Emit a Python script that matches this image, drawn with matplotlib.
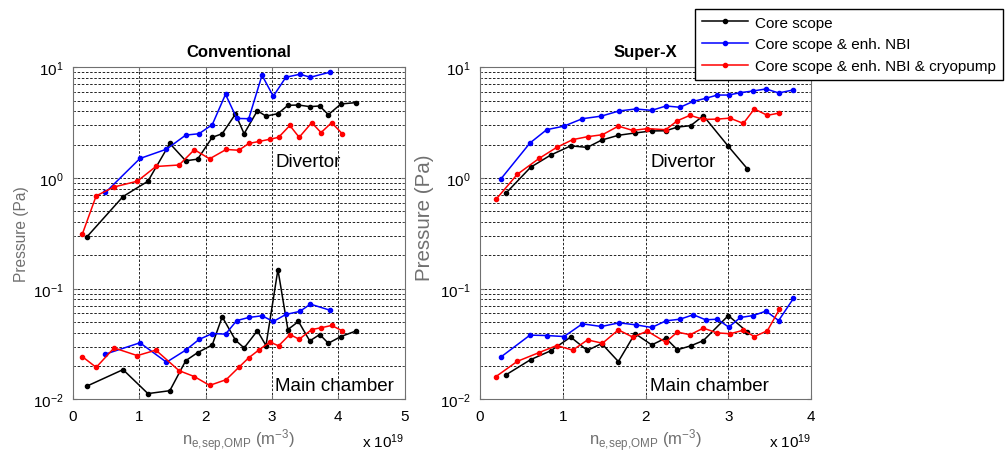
import matplotlib
matplotlib.use('Agg')
import matplotlib.pyplot as plt
from matplotlib.ticker import LogLocator, NullFormatter

plt.rcParams['font.family'] = ['Liberation Sans', 'DejaVu Sans']
plt.rcParams['mathtext.fontset'] = 'custom'
plt.rcParams['mathtext.rm'] = 'Liberation Sans'
plt.rcParams['mathtext.default'] = 'regular'

# ---- Conventional: density in 1e19 m^-3, pressure in Pa ----
conv_x_core = [0.21, 0.755, 1.13, 1.46, 1.70, 1.88, 2.10, 2.25, 2.45, 2.58,
               2.78, 2.91, 3.09, 3.24, 3.40, 3.57, 3.72, 3.85, 4.04, 4.26]
conv_div_core = [0.294, 0.68, 0.935, 2.05, 1.43, 1.48, 2.33, 2.51, 3.78, 2.51,
                 4.05, 3.62, 3.81, 4.53, 4.56, 4.41, 4.47, 3.73, 4.66, 4.79]
conv_main_core = [0.0132, 0.0186, 0.0113, 0.0120, 0.0224, 0.0265, 0.0311, 0.0558, 0.0343, 0.0292,
                  0.0417, 0.0307, 0.149, 0.0428, 0.0506, 0.0338, 0.0386, 0.0322, 0.0370, 0.0414]

conv_x_nbi = [0.49, 1.01, 1.41, 1.70, 1.90, 2.10, 2.30, 2.47, 2.65, 2.85,
              3.02, 3.21, 3.42, 3.58, 3.87]
conv_div_nbi = [0.74, 1.50, 1.82, 2.44, 2.51, 3.03, 5.70, 3.45, 3.43, 8.47,
                5.47, 8.13, 8.64, 8.13, 9.01]
conv_main_nbi = [0.0257, 0.0325, 0.0217, 0.0279, 0.0348, 0.0394, 0.0389, 0.0516, 0.0550, 0.0570,
                 0.0506, 0.0586, 0.0624, 0.0726, 0.0641]

conv_x_cryo = [0.14, 0.35, 0.62, 0.97, 1.25, 1.60, 1.83, 2.06, 2.31, 2.50,
               2.65, 2.81, 2.97, 3.10, 3.27, 3.41, 3.60, 3.74, 3.90, 4.06]
conv_div_cryo = [0.31, 0.69, 0.83, 0.935, 1.27, 1.31, 1.80, 1.49, 1.81, 1.78,
                 2.05, 2.14, 2.24, 2.33, 2.98, 2.33, 3.16, 2.57, 3.16, 2.51]
conv_main_cryo = [0.0244, 0.0195, 0.0292, 0.0249, 0.0279, 0.0182, 0.0161, 0.0134, 0.0151, 0.0195,
                  0.0238, 0.0282, 0.0330, 0.0305, 0.0386, 0.0350, 0.0428, 0.0444, 0.0466, 0.0417]

# ---- Super-X ----
sx_x_core = [0.314, 0.612, 0.854, 1.096, 1.297, 1.470, 1.672, 1.873, 2.075, 2.244,
             2.385, 2.546, 2.699, 3.001, 3.231]
sx_div_core = [0.73, 1.25, 1.61, 1.95, 1.89, 2.20, 2.43, 2.55, 2.66, 2.67,
               2.88, 2.97, 3.65, 1.93, 1.21]
sx_main_core = [0.0167, 0.0229, 0.0275, 0.0366, 0.0277, 0.0320, 0.0220, 0.0394, 0.0311, 0.0358,
                0.0281, 0.0305, 0.0340, 0.0573, 0.0406]

sx_x_nbi = [0.25, 0.604, 0.806, 1.015, 1.237, 1.466, 1.680, 1.882, 2.075, 2.248,
            2.417, 2.578, 2.727, 2.868, 3.005, 3.146, 3.303, 3.456, 3.609, 3.787]
sx_div_nbi = [0.975, 2.07, 2.73, 2.94, 3.43, 3.62, 4.03, 4.20, 4.08, 4.47,
              4.35, 4.92, 5.24, 5.61, 5.61, 5.90, 6.11, 6.37, 5.86, 6.24]
sx_main_nbi = [0.0241, 0.0381, 0.0378, 0.0370, 0.0482, 0.0456, 0.0492, 0.0472, 0.0447, 0.0513,
               0.0531, 0.0582, 0.0524, 0.0531, 0.0450, 0.0550, 0.0573, 0.0628, 0.0516, 0.0817]

sx_x_cryo = [0.193, 0.451, 0.713, 0.927, 1.12, 1.30, 1.48, 1.672, 1.845, 2.022,
             2.244, 2.385, 2.538, 2.699, 2.860, 3.021, 3.182, 3.315, 3.472, 3.617]
sx_div_cryo = [0.64, 1.08, 1.50, 1.89, 2.22, 2.36, 2.46, 2.94, 2.69, 2.79,
               2.73, 3.29, 3.68, 3.38, 3.40, 3.47, 3.11, 4.20, 3.68, 3.86]
sx_main_cryo = [0.0161, 0.0221, 0.0265, 0.0307, 0.0279, 0.0345, 0.0322, 0.0425, 0.0366, 0.0414,
                0.0329, 0.0406, 0.0384, 0.0441, 0.0400, 0.0392, 0.0422, 0.0370, 0.0417, 0.0650]

labels = ['Core scope', 'Core scope & enh. NBI', 'Core scope & enh. NBI & cryopump']
colors = ['black', '#0000ff', '#ff0000']

panels = [
    ('Conventional', 5,
     [(conv_x_core, conv_div_core, conv_main_core),
      (conv_x_nbi, conv_div_nbi, conv_main_nbi),
      (conv_x_cryo, conv_div_cryo, conv_main_cryo)]),
    ('Super-X', 4,
     [(sx_x_core, sx_div_core, sx_main_core),
      (sx_x_nbi, sx_div_nbi, sx_main_nbi),
      (sx_x_cryo, sx_div_cryo, sx_main_cryo)]),
]

fig = plt.figure(figsize=(10.05, 4.52), dpi=100)
ax_pos = [[0.0726, 0.114, 0.330, 0.735], [0.4776, 0.114, 0.3294, 0.735]]
grey = '#707070'
# the two y labels are not the same size in the original
ylab_size = [11.2, 14.8]
ylab_pos = [(-0.133, 0.5), (-0.139, 0.551)]

handles = []
for k, (title, xmax, series) in enumerate(panels):
    ax = fig.add_axes(ax_pos[k])
    for (x, div, main), c in zip(series, colors):
        h, = ax.plot(x, div, '-', color=c, lw=1.1, marker='.', ms=6)
        ax.plot(x, main, '-', color=c, lw=1.1, marker='.', ms=6)
        if k == 0:
            handles.append(h)

    ax.set_yscale('log')
    ax.set_ylim(0.01, 10)
    ax.set_xlim(0, xmax)
    ax.set_xticks(range(xmax + 1))
    ax.yaxis.set_major_locator(LogLocator(base=10, numticks=10))
    ax.yaxis.set_minor_locator(LogLocator(base=10, subs=range(2, 10), numticks=10))
    ax.yaxis.set_minor_formatter(NullFormatter())

    # MATLAB style dashed grid on every decade step
    ax.grid(True, which='major', axis='x', color='black', ls=(0, (3, 2)), lw=0.6)
    ax.grid(True, which='both', axis='y', color='black', ls=(0, (3, 2)), lw=0.6)

    ax.tick_params(which='both', direction='in', top=True, right=True, labelsize=11,
                   color=grey, length=3, pad=7)
    ax.tick_params(which='minor', length=1.5)
    for s in ax.spines.values():
        s.set_color(grey)

    ax.set_title(title, fontsize=12, fontweight='bold', pad=8)
    ax.set_ylabel('Pressure (Pa)', fontsize=ylab_size[k], color=grey)
    ax.yaxis.set_label_coords(*ylab_pos[k])
    ax.set_xlabel(r'n$_{e,\!sep,\!OMP}$ (m$^{-3}$)', fontsize=12, color=grey, va='top')
    ax.xaxis.set_label_coords(0.5, -0.08)
    ax.text(1.0, -0.142, r'x 10$^{19}$', transform=ax.transAxes, ha='right', va='baseline',
            fontsize=11)

    tx = 3.05 if k == 0 else 2.06
    ax.text(tx, 1.42, 'Divertor', fontsize=13.5, va='center')
    ax.text(tx, 0.0135, 'Main chamber', fontsize=13.5, va='center')

fig.legend(handles, labels, loc='upper right', bbox_to_anchor=(0.998, 0.978),
           fontsize=11, frameon=True, fancybox=False, edgecolor='black',
           framealpha=1, numpoints=1, handlelength=3.0, borderpad=0.45,
           labelspacing=0.5, handletextpad=0.5, borderaxespad=0)

fig.savefig('out.png', dpi=100)
